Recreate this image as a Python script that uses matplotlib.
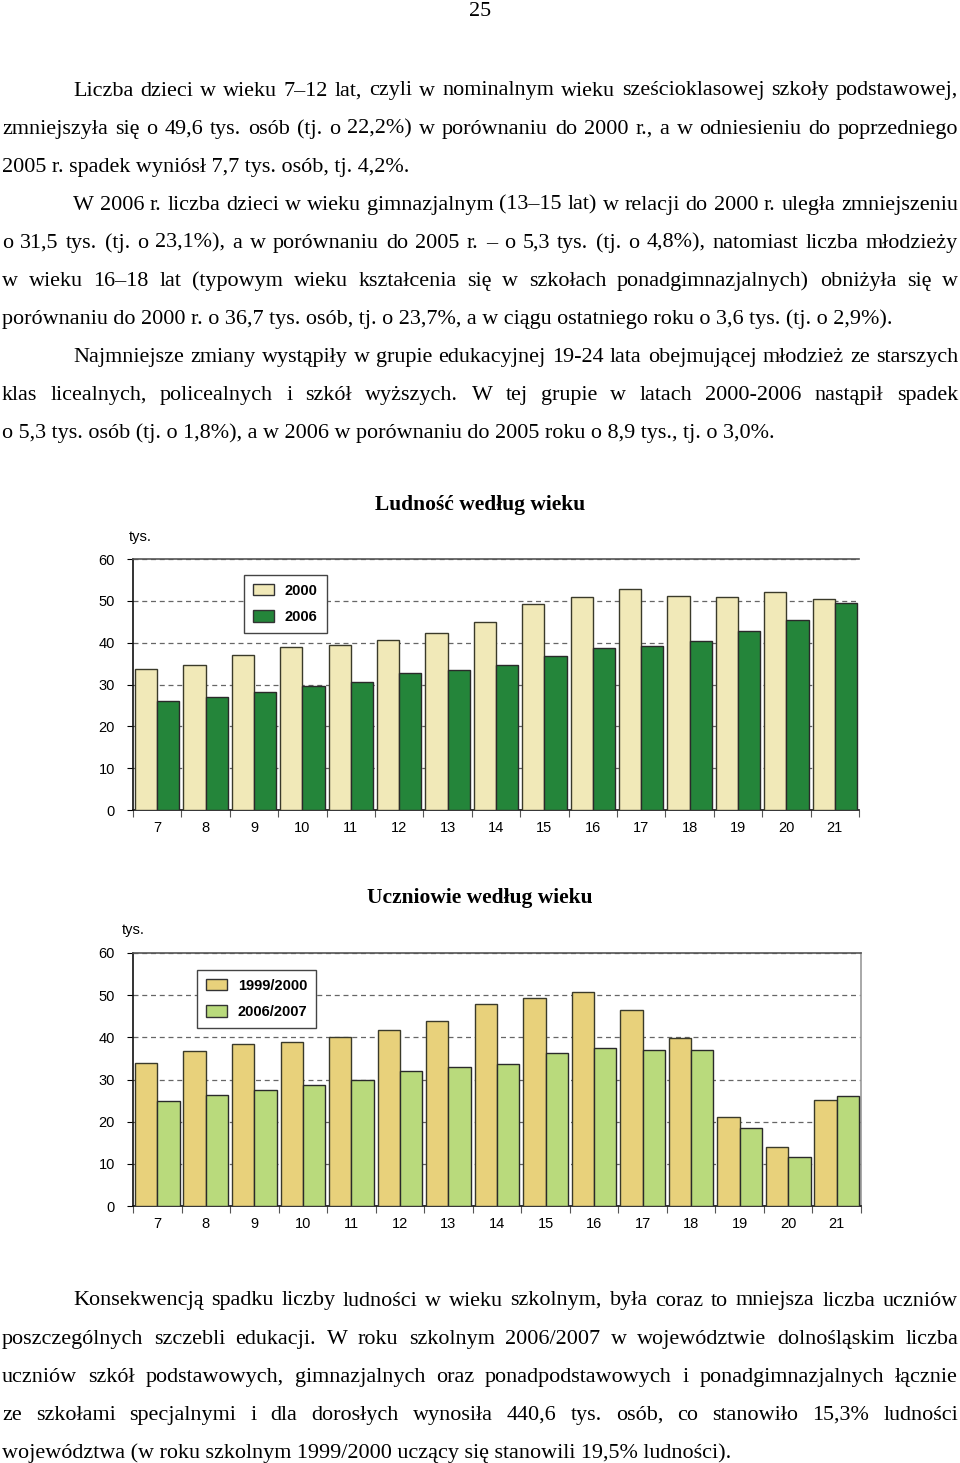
import matplotlib
matplotlib.use("Agg")
import matplotlib.pyplot as plt
from matplotlib.patches import Patch

# ---------------- data ----------------
ages = ["7", "8", "9", "10", "11", "12", "13", "14", "15", "16", "17", "18", "19", "20", "21"]
pop_2000 = [33.6, 34.7, 37.1, 38.9, 39.4, 40.6, 42.3, 44.9, 49.2, 50.8, 52.8, 51.2, 50.8, 52.0, 50.5]
pop_2006 = [26.1, 27.1, 28.2, 29.6, 30.7, 32.7, 33.5, 34.6, 36.9, 38.7, 39.3, 40.3, 42.9, 45.4, 49.6]
pupils_1999 = [34.0, 36.7, 38.4, 39.0, 40.0, 41.7, 43.9, 47.9, 49.4, 50.7, 46.5, 39.9, 21.1, 14.0, 25.2]
pupils_2006 = [24.9, 26.3, 27.6, 28.8, 29.9, 32.1, 32.9, 33.7, 36.3, 37.4, 37.1, 37.1, 18.4, 11.7, 26.1]
yticks = [0, 10, 20, 30, 40, 50, 60]

title1 = "Ludność według wieku"
title2 = "Uczniowie według wieku"
legend1 = ["2000", "2006"]
legend2 = ["1999/2000", "2006/2007"]
unit = "tys."
page_no = "25"

para_top = [
    ("Liczba dzieci w wieku 7–12 lat, czyli w nominalnym wieku sześcioklasowej szkoły podstawowej,", True, True),
    ("zmniejszyła się o 49,6 tys. osób (tj. o 22,2%) w porównaniu do 2000 r., a w odniesieniu do poprzedniego", False, True),
    ("2005 r. spadek wyniósł 7,7 tys. osób, tj. 4,2%.", False, False),
    ("W 2006 r. liczba dzieci w wieku gimnazjalnym (13–15 lat) w relacji do 2000 r. uległa zmniejszeniu", True, True),
    ("o 31,5 tys. (tj. o 23,1%), a w porównaniu do 2005 r. – o 5,3 tys. (tj. o 4,8%), natomiast liczba młodzieży", False, True),
    ("w wieku 16–18 lat (typowym wieku kształcenia się w szkołach ponadgimnazjalnych) obniżyła się w", False, True),
    ("porównaniu do 2000 r. o 36,7 tys. osób, tj. o 23,7%, a w ciągu ostatniego roku o 3,6 tys. (tj. o 2,9%).", False, False),
    ("Najmniejsze zmiany wystąpiły w grupie edukacyjnej 19-24 lata obejmującej młodzież ze starszych", True, True),
    ("klas licealnych, policealnych i szkół wyższych. W tej grupie w latach 2000-2006 nastąpił spadek", False, True),
    ("o 5,3 tys. osób (tj. o 1,8%), a w 2006 w porównaniu do 2005 roku o 8,9 tys., tj. o 3,0%.", False, False),
]
para_bottom = [
    ("Konsekwencją spadku liczby ludności w wieku szkolnym, była coraz to mniejsza liczba uczniów", True, True),
    ("poszczególnych szczebli edukacji. W roku szkolnym 2006/2007 w województwie dolnośląskim liczba", False, True),
    ("uczniów szkół podstawowych, gimnazjalnych oraz ponadpodstawowych i ponadgimnazjalnych łącznie", False, True),
    ("ze szkołami specjalnymi i dla dorosłych wynosiła 440,6 tys. osób, co stanowiło 15,3% ludności", False, True),
    ("województwa (w roku szkolnym 1999/2000 uczący się stanowili 19,5% ludności).", False, False),
]

# ---------------- figure ----------------
W, H = 960, 1463
fig = plt.figure(figsize=(W / 100, H / 100), dpi=100)
fig.patch.set_facecolor("white")

SERIF = "Liberation Serif"
SANS = "Liberation Sans"
BODY_SIZE = 15.9
CHART_SIZE = 10.5


def fx(px):
    return px / W


def fy(py):
    return 1 - py / H


fig.text(fx(480), fy(12), page_no, ha="center", va="center", family=SERIF, fontsize=BODY_SIZE)

renderer = fig.canvas.get_renderer()


def place_lines(lines, y0, dy):
    # y0 is the baseline of the first line (pixels from the top)
    left, indent, right = 2, 73, 958
    for i, (line, ind, just) in enumerate(lines):
        y = fy(y0 + i * dy)
        x_start = indent if ind else left
        if not just:
            fig.text(fx(x_start), y, line, ha="left", va="baseline", family=SERIF, fontsize=BODY_SIZE)
            continue
        words = line.split()
        texts = [fig.text(0, y, w, ha="left", va="baseline", family=SERIF, fontsize=BODY_SIZE) for w in words]
        widths = [t.get_window_extent(renderer=renderer).width for t in texts]
        gap = (right - x_start - sum(widths)) / (len(words) - 1)
        x = x_start
        for t, wdt in zip(texts, widths):
            t.set_x(fx(x))
            x += wdt + gap


place_lines(para_top, 95.5, 38.1)
place_lines(para_bottom, 1305.5, 38.1)


def bar_chart(left, right, top, bottom, s1, s2, c1, c2, labels, title, title_y, unit_x, unit_y,
              leg_anchor, full_box):
    ax = fig.add_axes([fx(left), fy(bottom), fx(right - left), (bottom - top) / H])
    x = list(range(len(ages)))
    bw = 0.46
    ax.bar([i - bw / 2 for i in x], s1, width=bw, color=c1, edgecolor="#3a3a2a", linewidth=1.0, zorder=3)
    ax.bar([i + bw / 2 for i in x], s2, width=bw, color=c2, edgecolor="#2a2a2a", linewidth=1.0, zorder=3)
    ax.set_xlim(-0.5, len(ages) - 0.5)
    ax.set_ylim(0, 60)
    ax.set_yticks(yticks)
    ax.set_yticklabels([str(v) for v in yticks], family=SANS, fontsize=CHART_SIZE)
    ax.set_xticks(x)
    ax.set_xticklabels(ages, family=SANS, fontsize=CHART_SIZE)
    ax.set_xticks([i - 0.5 for i in range(len(ages) + 1)], minor=True)
    ax.tick_params(axis="x", which="major", length=0, pad=8)
    ax.tick_params(axis="x", which="minor", length=5, width=0.8, color="#555555", direction="out")
    ax.tick_params(axis="y", length=4, width=0.8, pad=9, direction="out")
    ax.grid(axis="y", linestyle=(0, (4, 3)), color="#666666", linewidth=0.9, zorder=0)
    ax.set_axisbelow(True)
    ax.spines["left"].set_color("#111111")
    ax.spines["bottom"].set_color("#111111")
    ax.spines["left"].set_linewidth(1.2)
    ax.spines["bottom"].set_linewidth(1.2)
    ax.spines["top"].set_color("#555555")
    ax.spines["top"].set_linewidth(1.2)
    if full_box:
        ax.spines["right"].set_color("#999999")
        ax.spines["right"].set_linewidth(1.2)
    else:
        ax.spines["right"].set_visible(False)
    handles = [Patch(facecolor=c1, edgecolor="#333333", linewidth=1.0),
               Patch(facecolor=c2, edgecolor="#333333", linewidth=1.0)]
    leg = ax.legend(handles, labels, loc="upper left", bbox_to_anchor=leg_anchor,
                    prop={"family": SANS, "weight": "bold", "size": CHART_SIZE},
                    fancybox=False, frameon=True, edgecolor="#444444", framealpha=1,
                    handlelength=1.45, handleheight=0.82, handletextpad=0.75, labelspacing=0.85,
                    borderpad=0.6, borderaxespad=0)
    leg.get_frame().set_linewidth(1.0)
    leg.set_zorder(5)
    fig.text(fx(480), fy(title_y), title, ha="center", va="center", family=SERIF,
             fontsize=15.5, weight="bold")
    fig.text(fx(unit_x), fy(unit_y), unit, ha="left", va="center", family=SANS, fontsize=CHART_SIZE)
    return ax


bar_chart(133, 859, 559, 810, pop_2000, pop_2006, "#F1E9B8", "#24853A", legend1,
          title1, 505, 129, 537, (0.153, 0.936), False)
bar_chart(133, 861, 953, 1206, pupils_1999, pupils_2006, "#E8D17B", "#B9DA7C", legend2,
          title2, 898, 122, 930, (0.088, 0.933), True)

fig.savefig("out.png", dpi=100, facecolor="white")
